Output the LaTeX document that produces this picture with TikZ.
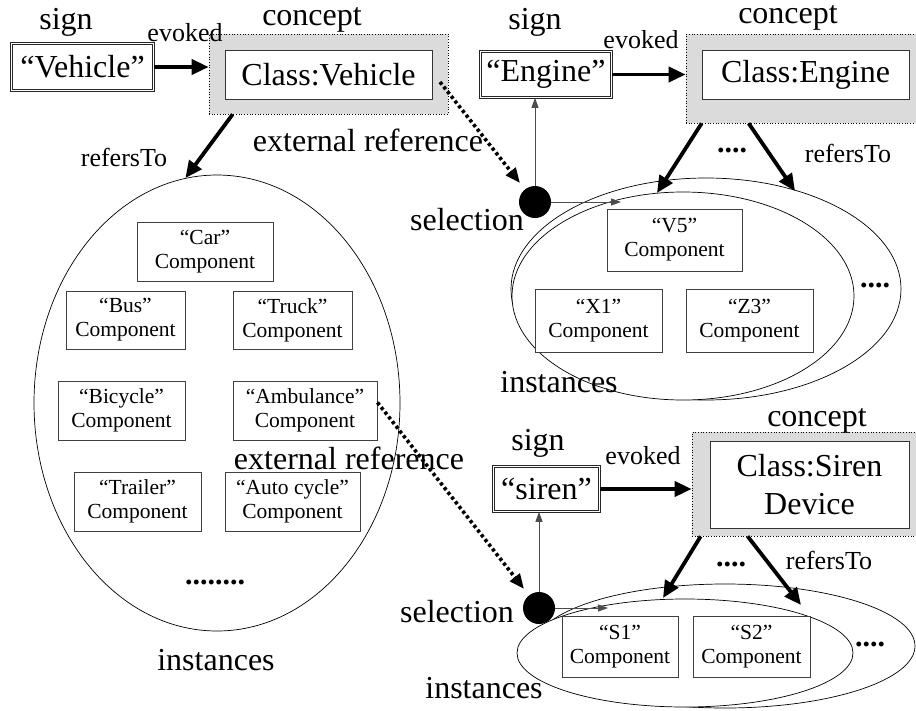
\documentclass[tikz,border=0pt]{standalone}
\usepackage{fontspec}
\setmainfont{Liberation Serif}
\usetikzlibrary{arrows.meta,shapes.geometric}
\begin{document}
\begin{tikzpicture}[x=1pt,y=-1pt,
 big/.style={font=\fontsize{32}{36}\selectfont, inner sep=0pt},
 med/.style={font=\fontsize{26}{30}\selectfont, inner sep=0pt},
 signbox/.style={draw=black!85, double=white, double distance=1.6pt, line width=0.7pt, inner sep=0pt, font=\fontsize{32}{36}\selectfont},
 conbox/.style={fill=black!14, draw=black, dotted, line width=0.7pt, inner sep=0pt},
 inbox/.style={draw=black!80, fill=white, line width=0.9pt, inner sep=0pt, align=center, font=\fontsize{32}{38}\selectfont},
 comp/.style={draw=black!75, fill=white, line width=0.9pt, inner sep=0pt, align=center, font=\fontsize{21.5}{24}\selectfont},
 ell/.style={ellipse, draw=black, fill=white, line width=0.7pt, inner sep=0pt},
 seldot/.style={circle, fill=black, inner sep=0pt, minimum size=32pt},
 bigarrow/.style={line width=3.8pt, -{Triangle[length=17pt,width=15pt]}},
 thinarrow/.style={draw=black!70, line width=0.9pt, -{Triangle[length=10pt,width=7pt]}},
 extarrow/.style={line width=3.6pt, dash pattern=on 3.2pt off 2.8pt, -{Triangle[length=15pt,width=12pt]}},
 dotsfont/.style={font=\fontsize{30}{36}\selectfont\bfseries, inner sep=0pt},
]
\useasboundingbox (0,0) rectangle (916,710);

% ---------- ellipses (back ones first, front ones filled white) ----------
\node[ell, minimum width=366pt, minimum height=456pt] (ell1) at (217,403) {};
\node[ell, minimum width=390pt, minimum height=222pt] (ellB) at (706,289) {};
\node[ell, minimum width=342pt, minimum height=208pt] (ellA) at (683,296) {};
\node[ell, minimum width=380pt, minimum height=124pt] (ellD) at (725,646) {};
\node[ell, minimum width=336pt, minimum height=108pt] (ellC) at (685,653) {};

% ---------- boxes ----------
\node[signbox, minimum width=142pt, minimum height=47pt] (sgn1) at (82.5,67) {“Vehicle”};
\node[conbox, minimum width=239pt, minimum height=80pt] (cg1) at (328.5,74) {};
\node[inbox, minimum width=207pt, minimum height=49pt] (cv1) at (328.5,74.5) {Class:Vehicle};

\node[signbox, minimum width=131pt, minimum height=46pt] (sgn2) at (546,74.5) {“Engine”};
\node[conbox, minimum width=230pt, minimum height=89pt] (cg2) at (801,78.5) {};
\node[inbox, minimum width=207pt, minimum height=49pt] (cv2) at (805.5,74.5) {Class:Engine};

\node[signbox, minimum width=106pt, minimum height=45pt] (sgn3) at (546.5,489) {“siren”};
\node[conbox, minimum width=224pt, minimum height=104pt] (cg3) at (804,484) {};
\node[inbox, minimum width=199pt, minimum height=87pt] (cv3) at (809.5,484.5) {Class:Siren\\Device};

\node[comp, minimum width=136pt, minimum height=59pt] (car) at (205,251.5) {“Car”\\Component};
\node[comp, minimum width=119pt, minimum height=58pt] (bus) at (125.5,320) {“Bus”\\Component};
\node[comp, minimum width=119pt, minimum height=58pt] (truck) at (292.5,320) {“Truck”\\Component};
\node[comp, minimum width=127pt, minimum height=59pt] (bic) at (121.5,410.5) {“Bicycle”\\Component};
\node[comp, minimum width=144pt, minimum height=59pt] (amb) at (305,410.5) {“Ambulance”\\Component};
\node[comp, minimum width=127pt, minimum height=59pt] (trl) at (137.5,501.5) {“Trailer”\\Component};
\node[comp, minimum width=135pt, minimum height=59pt] (auto) at (292.5,501.5) {“Auto cycle”\\Component};

\node[comp, minimum width=135pt, minimum height=62pt] (v5) at (674.5,240) {“V5”\\Component};
\node[comp, minimum width=127pt, minimum height=63pt] (x1) at (598.5,320.5) {“X1”\\Component};
\node[comp, minimum width=127pt, minimum height=63pt] (z3) at (749.5,320.5) {“Z3”\\Component};

\node[comp, minimum width=116pt, minimum height=61pt] (s1) at (620,646.5) {“S1”\\Component};
\node[comp, minimum width=117pt, minimum height=61pt] (s2) at (751.5,646.5) {“S2”\\Component};

\node[seldot] (sel1) at (535,202) {};
\node[seldot] (sel2) at (539,608) {};

% ---------- labels ----------
\node[big] (sign1) at (66,22) {sign};
\node[med] (evk1) at (185,33) {evoked};
\node[big] (conl1) at (312,20) {concept};
\node[med] (ref1) at (124,157) {refersTo};
\node[big] (ext1) at (368,140) {external reference};
\node[dotsfont] (dots1) at (215,582) {........};
\node[big] (inst1) at (216,660) {instances};
\node[big] (ext2) at (349,458) {external reference};

\node[big] (sign2) at (535,22) {sign};
\node[med] (evk2) at (641,40) {evoked};
\node[big] (conl2) at (788,18) {concept};
\node[dotsfont] (dots2) at (732,150) {....};
\node[med] (ref2) at (848,153) {refersTo};
\node[big] (seltxt1) at (467,220) {selection};
\node[dotsfont] (dots3) at (875,285) {....};
\node[big] (inst2) at (559,382) {instances};

\node[big] (sign3) at (538,443) {sign};
\node[med] (evk3) at (643,456) {evoked};
\node[big] (conl3) at (817,421) {concept};
\node[dotsfont] (dots4) at (731,564) {....};
\node[med] (ref3) at (829,560) {refersTo};
\node[big] (seltxt2) at (457,612) {selection};
\node[dotsfont] (dots5) at (870,644) {....};
\node[big] (inst3) at (484,688) {instances};

% ---------- connectors ----------
\draw[bigarrow] (sgn1.east) -- (sgn1.east -| cg1.west);
\draw[bigarrow] ([xshift=24pt]cg1.south west) -- (ell1.98);

\coordinate (a2l) at (657,193);
\coordinate (a2r) at (795,191);
\coordinate (t2) at (621,202);
\draw[bigarrow] (sgn2.east) -- (sgn2.east -| cg2.west);
\draw[bigarrow] ([xshift=16pt]cg2.south west) -- (a2l);
\draw[bigarrow] ([xshift=63pt]cg2.south west) -- (a2r);
\draw[thinarrow] (sel1.north) -- (sel1.north |- sgn2.south);
\draw[thinarrow] (sel1.east) -- (t2);
\coordinate (x1s) at (440,82);
\draw[extarrow, shorten >=8pt] (x1s) -- (sel1);

\coordinate (a3l) at (663,598);
\coordinate (a3r) at (801,605);
\coordinate (t3) at (608,608);
\draw[bigarrow] (sgn3.east) -- (sgn3.east -| cg3.west);
\draw[bigarrow] ([xshift=9pt]cg3.south west) -- (a3l);
\draw[bigarrow] ([xshift=56pt]cg3.south west) -- (a3r);
\draw[thinarrow] (sel2.north) -- (sel2.north |- sgn3.south);
\draw[thinarrow] (sel2.east) -- (t3);
\draw[extarrow, shorten >=8pt] ([yshift=8pt]amb.east) -- (sel2);
\end{tikzpicture}
\end{document}
